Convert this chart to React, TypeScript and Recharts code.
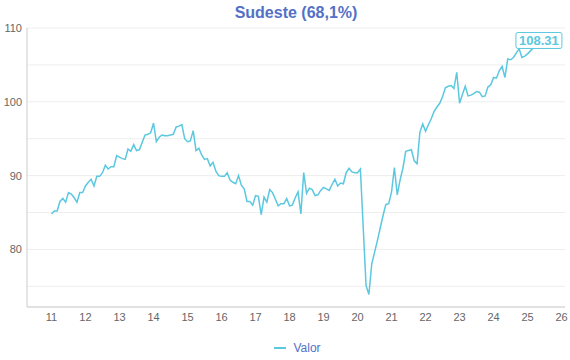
import React from "react";
import {
  LineChart,
  Line,
  XAxis,
  YAxis,
  CartesianGrid,
  Legend,
} from "recharts";

// monthly index values, Jan..Dec
const v2011 = [84.8, 85.2, 85.2, 86.5, 86.9, 86.4, 87.7, 87.5, 87.0, 86.4, 87.7, 87.7];
const v2012 = [88.6, 89.1, 89.5, 88.6, 89.9, 89.9, 90.4, 91.4, 90.9, 91.2, 91.2, 92.7];
const v2013 = [92.5, 92.3, 92.2, 93.6, 93.3, 94.2, 93.4, 93.5, 94.5, 95.5, 95.6, 95.8];
const v2014 = [97.1, 94.6, 95.2, 95.5, 95.4, 95.4, 95.5, 95.6, 96.6, 96.7, 96.9, 95.0];
const v2015 = [94.6, 94.7, 96.1, 93.4, 93.7, 92.8, 92.2, 92.3, 91.3, 91.8, 90.6, 90.0];
const v2016 = [89.9, 89.9, 90.4, 89.4, 89.1, 88.9, 90.0, 88.7, 88.2, 86.5, 86.5, 86.0];
const v2017 = [87.3, 87.2, 84.7, 87.1, 86.4, 88.1, 87.7, 86.8, 85.9, 86.2, 86.2, 86.9];
const v2018 = [85.9, 86.0, 87.0, 87.8, 84.8, 90.4, 87.6, 88.3, 88.1, 87.3, 87.4, 88.0];
const v2019 = [88.4, 88.2, 88.0, 88.8, 89.5, 88.6, 89.0, 88.9, 90.4, 91.0, 90.5, 90.4];
const v2020 = [90.4, 90.9, 83.0, 75.1, 73.9, 78.0, 79.6, 81.2, 82.9, 84.6, 86.1, 86.2];
const v2021 = [87.8, 91.1, 87.4, 89.4, 91.0, 93.3, 93.4, 93.5, 92.0, 91.6, 95.9, 97.0];
const v2022 = [96.0, 96.9, 97.7, 98.7, 99.3, 99.8, 100.7, 101.9, 102.1, 102.2, 101.8, 104.0];
const v2023 = [99.8, 101.0, 102.1, 100.8, 100.9, 101.1, 101.4, 101.3, 100.7, 100.8, 102.0, 102.3];
const v2024 = [103.3, 103.2, 104.2, 104.8, 103.3, 105.8, 105.7, 106.0, 106.6, 107.2, 106.0, 106.2];
const v2025 = [106.5, 106.9, 107.3, 107.8, 108.31];

const years = [11, 12, 13, 14, 15, 16, 17, 18, 19, 20, 21, 22, 23, 24, 25];
const yearValues = [v2011, v2012, v2013, v2014, v2015, v2016, v2017, v2018, v2019, v2020, v2021, v2022, v2023, v2024, v2025];

const xTicks = [11, 12, 13, 14, 15, 16, 17, 18, 19, 20, 21, 22, 23, 24, 25, 26];
const yTicks = [75, 80, 85, 90, 95, 100, 105, 110];

const data = years.flatMap((yr, i) =>
  yearValues[i].map((v, m) => ({ t: yr + m / 12, Valor: v }))
);

const LINE = "#5bc8e0";
const BLUE = "#5470c6";
const FONT = "'Liberation Sans', Arial, sans-serif";

function EndLabel(props: any) {
  const { x, y, index, value } = props;
  if (index !== data.length - 1) return null;
  return (
    <g>
      <rect x={x - 23} y={y - 8} width={46} height={16} fill="#fff" stroke={LINE} strokeWidth={1} rx={2} />
      <text x={x} y={y + 4.5} textAnchor="middle" fontSize={13} fontWeight="bold" fill={LINE} fontFamily={FONT}>
        {Number(value).toFixed(2)}
      </text>
    </g>
  );
}

function LegendContent() {
  return (
    <div style={{ display: "flex", justifyContent: "center", alignItems: "center", paddingLeft: 30, paddingTop: 9, fontFamily: FONT, fontSize: 12, color: BLUE }}>
      <span style={{ display: "inline-block", width: 12, height: 2, background: LINE, marginRight: 7 }} />
      <span>Valor</span>
    </div>
  );
}

export default function App() {
  return (
    <div style={{ position: "absolute", left: 0, top: 0, width: 570, height: 360, background: "#fff", fontFamily: FONT }}>
      <div style={{ position: "absolute", top: 4, left: 26, width: 540, textAlign: "center", fontSize: 16, fontWeight: "bold", color: BLUE }}>
        Sudeste (68,1%)
      </div>
      <LineChart width={570} height={360} data={data} margin={{ top: 28, right: 5, bottom: 0, left: 0 }}>
        <CartesianGrid vertical={false} stroke="#eeeeee" />
        <XAxis
          type="number"
          dataKey="t"
          domain={[10.28, 26.1]}
          allowDataOverflow
          ticks={xTicks}
          height={25}
          tickLine={false}
          tickSize={4}
          axisLine={{ stroke: "#cccccc" }}
          tick={{ fontSize: 11, fill: "#666", fontFamily: FONT }}
        />
        <YAxis
          type="number"
          domain={[72.2, 110]}
          allowDataOverflow
          ticks={yTicks}
          width={27}
          tickLine={false}
          tickSize={3}
          axisLine={{ stroke: "#cccccc" }}
          tick={{ fontSize: 11, fill: "#666", fontFamily: FONT }}
          tickFormatter={(v: number) => (v % 10 === 0 ? String(v) : "")}
        />
        <Legend verticalAlign="bottom" content={<LegendContent />} wrapperStyle={{ height: 28 }} />
        <Line
          type="linear"
          dataKey="Valor"
          stroke={LINE}
          strokeWidth={1.5}
          dot={false}
          isAnimationActive={false}
          label={<EndLabel />}
        />
      </LineChart>
    </div>
  );
}
